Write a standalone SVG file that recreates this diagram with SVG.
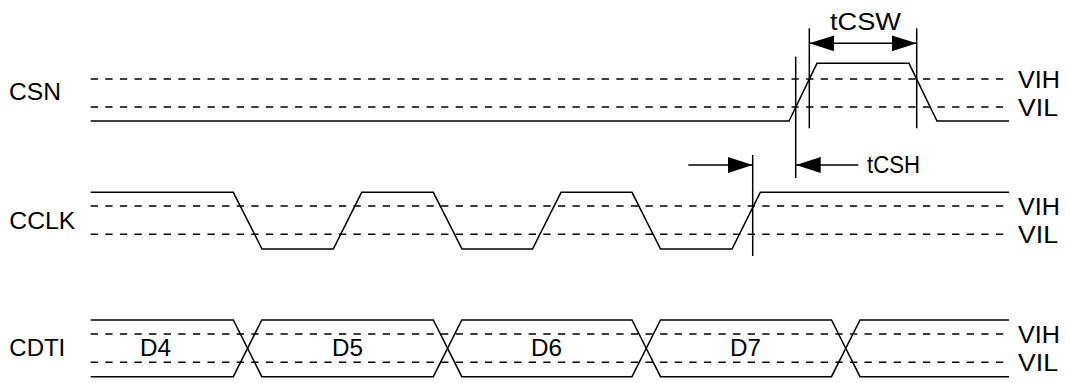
<svg xmlns="http://www.w3.org/2000/svg" width="1070" height="383" viewBox="0 0 1070 383">
<style>
.bg{fill:#ffffff}
.sig{fill:none;stroke:#000;stroke-width:1.5;stroke-linejoin:miter}
.th{fill:none;stroke:#000;stroke-width:1.4;stroke-dasharray:7.3 7.3}
.ref{fill:none;stroke:#000;stroke-width:1.5}
.arr{fill:none;stroke:#000;stroke-width:1.5}
text{font-family:"Liberation Sans",Arial,Helvetica,sans-serif;font-size:23px;fill:#000}
</style>
<defs>
<marker id="ah" markerUnits="userSpaceOnUse" markerWidth="25" markerHeight="16" refX="25" refY="8" orient="auto-start-reverse" viewBox="0 0 25 16">
<path d="M0,0 L25,8 L0,16 Z" fill="#000"/>
</marker>
</defs>
<rect class="bg" x="0" y="0" width="1070" height="383"/>

<g id="csn">
<text x="9" y="99.5" textLength="52" lengthAdjust="spacingAndGlyphs">CSN</text>
<line class="th" x1="90.7" y1="79" x2="1010" y2="79"/>
<line class="th" x1="90.7" y1="107" x2="1010" y2="107"/>
<path class="sig" d="M90.7,121 H789 L817,63.3 H909 L937,121 H1009"/>
<text x="1018" y="88" textLength="42" lengthAdjust="spacingAndGlyphs">VIH</text>
<text x="1018" y="116" textLength="40" lengthAdjust="spacingAndGlyphs">VIL</text>
</g>

<g id="cclk">
<text x="9.3" y="228.5" textLength="66" lengthAdjust="spacingAndGlyphs">CCLK</text>
<line class="th" x1="90.7" y1="206" x2="1010" y2="206"/>
<line class="th" x1="90.7" y1="234.3" x2="1010" y2="234.3"/>
<path class="sig" d="M90.7,192.3 H233.3 L262,249 H333.3 L361.7,192.3 H433.3 L462,249 H532.5 L561,192.3 H632 L660.5,249 H732 L760.3,192.3 H1009"/>
<text x="1018" y="214.5" textLength="42" lengthAdjust="spacingAndGlyphs">VIH</text>
<text x="1018" y="243" textLength="40" lengthAdjust="spacingAndGlyphs">VIL</text>
</g>

<g id="cdti">
<text x="9.3" y="355.5" textLength="56" lengthAdjust="spacingAndGlyphs">CDTI</text>
<line class="th" x1="90.7" y1="334" x2="1010" y2="334"/>
<line class="th" x1="90.7" y1="362.3" x2="1010" y2="362.3"/>
<path class="sig" d="M90.7,320 H233.3 L261.8,376.7 H433.3 L461.8,320 H632 L660.5,376.7 H831.5 L860,320 H1009"/>
<path class="sig" d="M90.7,376.7 H233.3 L261.8,320 H433.3 L461.8,376.7 H632 L660.5,320 H831.5 L860,376.7 H1009"/>
<text x="140" y="355.5" textLength="31" lengthAdjust="spacingAndGlyphs">D4</text>
<text x="332" y="355.5" textLength="31" lengthAdjust="spacingAndGlyphs">D5</text>
<text x="531" y="355.5" textLength="31" lengthAdjust="spacingAndGlyphs">D6</text>
<text x="730" y="355.5" textLength="31" lengthAdjust="spacingAndGlyphs">D7</text>
<text x="1018" y="343" textLength="42" lengthAdjust="spacingAndGlyphs">VIH</text>
<text x="1018" y="371" textLength="40" lengthAdjust="spacingAndGlyphs">VIL</text>
</g>

<g id="connectors">
<line class="ref" x1="809.3" y1="28.3" x2="809.3" y2="128.3"/>
<line class="ref" x1="916.7" y1="28.3" x2="916.7" y2="128.3"/>
<line class="ref" x1="795.7" y1="56.7" x2="795.7" y2="178"/>
<line class="ref" x1="752.7" y1="155" x2="752.7" y2="256"/>
<line class="arr" x1="809.3" y1="43.3" x2="916.7" y2="43.3" marker-start="url(#ah)" marker-end="url(#ah)"/>
<line class="arr" x1="688.3" y1="165" x2="752.7" y2="165" marker-end="url(#ah)"/>
<line class="arr" x1="858.3" y1="165" x2="795.7" y2="165" marker-end="url(#ah)"/>
<text x="830" y="29.5" textLength="71" lengthAdjust="spacingAndGlyphs">tCSW</text>
<text x="867" y="173" textLength="53" lengthAdjust="spacingAndGlyphs">tCSH</text>
</g>
</svg>
